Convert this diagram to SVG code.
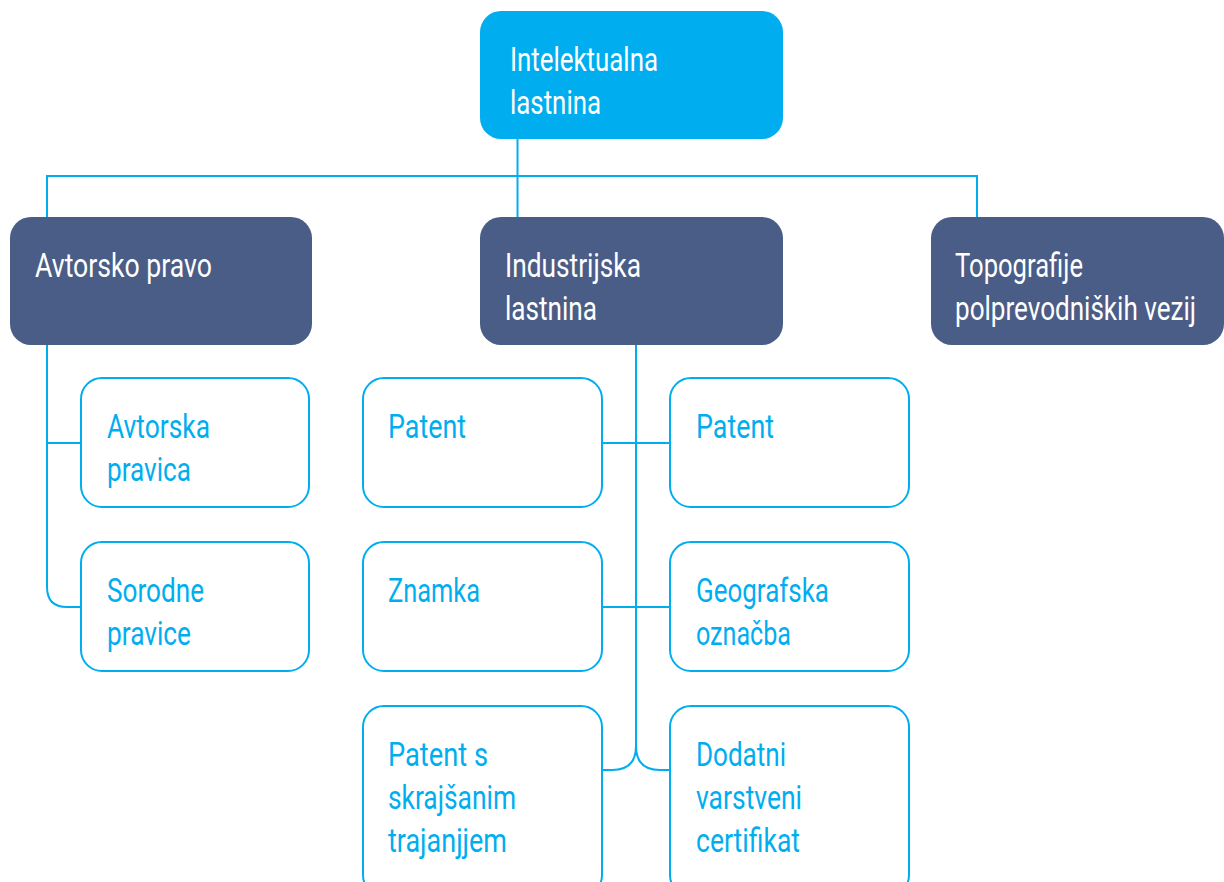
<svg xmlns="http://www.w3.org/2000/svg" width="1224" height="882" viewBox="0 0 1224 882">
<style>
.top{fill:#00AEEF}
.mid{fill:#4A5D87}
.leaf{fill:#FFFFFF;stroke:#00AEEF;stroke-width:2}
.tw{font-family:Roboto,"Liberation Sans",sans-serif;font-size:34px;fill:#FFFFFF}
.tb{font-family:Roboto,"Liberation Sans",sans-serif;font-size:34px;fill:#00AEEF}
.con{fill:none;stroke:#00AEEF;stroke-width:2}
</style>
<rect width="1224" height="882" fill="#FFFFFF"/>
<g id="connectors">
<path class="con" d="M517.5 139 V217"/>
<path class="con" d="M47 217 V176 H977 V217"/>
<path class="con" d="M47 345 V587 Q47 607 67 607 H81"/>
<path class="con" d="M47 443 H81"/>
<path class="con" d="M636 345 V748"/>
<path class="con" d="M602 443 H670"/>
<path class="con" d="M602 607 H670"/>
<path class="con" d="M636 746 Q636 770 612 770 H602"/>
<path class="con" d="M636 746 Q636 770 660 770 H670"/>
</g>
<g id="n-root">
<rect class="top" x="480" y="11" width="303" height="128" rx="21"/>
<text class="tw" x="510" y="71" textLength="148" lengthAdjust="spacingAndGlyphs">Intelektualna</text>
<text class="tw" x="510" y="114" textLength="91" lengthAdjust="spacingAndGlyphs">lastnina</text>
</g>
<g id="n-avtorsko">
<rect class="mid" x="10" y="217" width="302" height="128" rx="21"/>
<text class="tw" x="35" y="277" textLength="177" lengthAdjust="spacingAndGlyphs">Avtorsko pravo</text>
</g>
<g id="n-industrijska">
<rect class="mid" x="480" y="217" width="303" height="128" rx="21"/>
<text class="tw" x="505" y="277" textLength="136" lengthAdjust="spacingAndGlyphs">Industrijska</text>
<text class="tw" x="505" y="320" textLength="92" lengthAdjust="spacingAndGlyphs">lastnina</text>
</g>
<g id="n-topografije">
<rect class="mid" x="931" y="217" width="293" height="128" rx="21"/>
<text class="tw" x="955" y="277" textLength="128" lengthAdjust="spacingAndGlyphs">Topografije</text>
<text class="tw" x="955" y="320" textLength="241" lengthAdjust="spacingAndGlyphs">polprevodniških vezij</text>
</g>
<g id="n-avtorska-pravica">
<rect class="leaf" x="81" y="378" width="228" height="129" rx="21"/>
<text class="tb" x="107" y="438" textLength="103" lengthAdjust="spacingAndGlyphs">Avtorska</text>
<text class="tb" x="107" y="481" textLength="84" lengthAdjust="spacingAndGlyphs">pravica</text>
</g>
<g id="n-sorodne-pravice">
<rect class="leaf" x="81" y="542" width="228" height="129" rx="21"/>
<text class="tb" x="107" y="602" textLength="97" lengthAdjust="spacingAndGlyphs">Sorodne</text>
<text class="tb" x="107" y="645" textLength="84" lengthAdjust="spacingAndGlyphs">pravice</text>
</g>
<g id="n-patent-1">
<rect class="leaf" x="363" y="378" width="239" height="129" rx="21"/>
<text class="tb" x="388" y="438" textLength="78" lengthAdjust="spacingAndGlyphs">Patent</text>
</g>
<g id="n-patent-2">
<rect class="leaf" x="670" y="378" width="239" height="129" rx="21"/>
<text class="tb" x="696" y="438" textLength="78" lengthAdjust="spacingAndGlyphs">Patent</text>
</g>
<g id="n-znamka">
<rect class="leaf" x="363" y="542" width="239" height="129" rx="21"/>
<text class="tb" x="388" y="602" textLength="92" lengthAdjust="spacingAndGlyphs">Znamka</text>
</g>
<g id="n-geografska">
<rect class="leaf" x="670" y="542" width="239" height="129" rx="21"/>
<text class="tb" x="696" y="602" textLength="133" lengthAdjust="spacingAndGlyphs">Geografska</text>
<text class="tb" x="696" y="645" textLength="95" lengthAdjust="spacingAndGlyphs">označba</text>
</g>
<g id="n-patent-skrajsan">
<rect class="leaf" x="363" y="706" width="239" height="190" rx="21"/>
<text class="tb" x="388" y="766" textLength="100" lengthAdjust="spacingAndGlyphs">Patent s</text>
<text class="tb" x="388" y="809" textLength="128" lengthAdjust="spacingAndGlyphs">skrajšanim</text>
<text class="tb" x="388" y="852" textLength="119" lengthAdjust="spacingAndGlyphs">trajanjjem</text>
</g>
<g id="n-dodatni">
<rect class="leaf" x="670" y="706" width="239" height="190" rx="21"/>
<text class="tb" x="696" y="766" textLength="90" lengthAdjust="spacingAndGlyphs">Dodatni</text>
<text class="tb" x="696" y="809" textLength="106" lengthAdjust="spacingAndGlyphs">varstveni</text>
<text class="tb" x="696" y="852" textLength="104" lengthAdjust="spacingAndGlyphs">certifikat</text>
</g>
</svg>
